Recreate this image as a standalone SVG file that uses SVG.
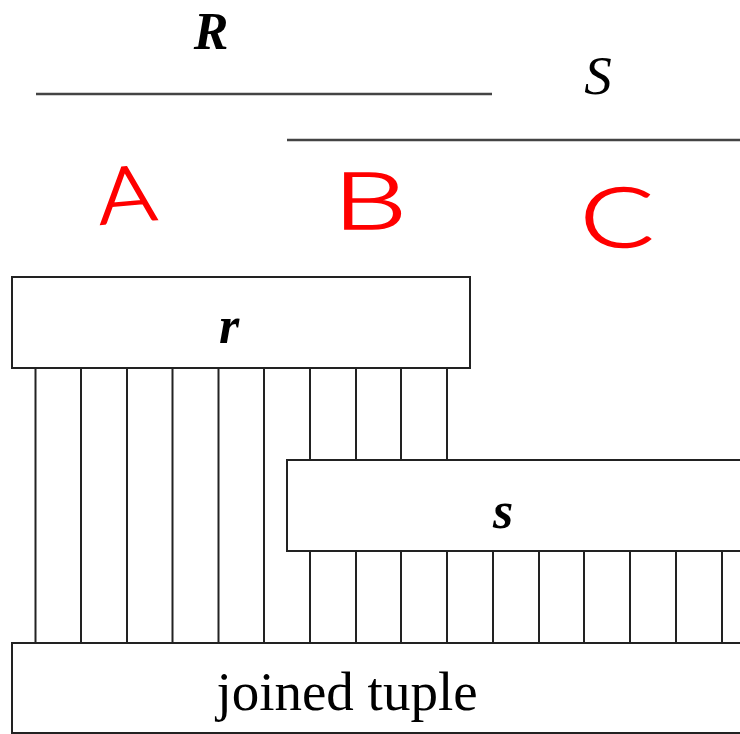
<svg xmlns="http://www.w3.org/2000/svg" width="740" height="734" viewBox="0 0 740 734">
  <style>
    .box { fill: #ffffff; stroke: #222222; stroke-width: 2; }
    .rule { stroke: #444444; stroke-width: 2.5; fill: none; }
    .wire { stroke: #222222; stroke-width: 2; fill: none; }
    .lbl { font-family: "Liberation Serif", "Times New Roman", serif; fill: #000000; }
    .bi { font-style: italic; font-weight: bold; }
    .hand { font-family: "Lato", "Inter", "Liberation Sans", sans-serif; font-weight: 300; fill: #ff0000; stroke: #ff0000; stroke-width: 1.5; font-size: 78px; }
  </style>
  <rect width="740" height="734" fill="#ffffff"/>

  <g id="relation-R">
    <text class="lbl bi" x="211" y="49" font-size="52" text-anchor="middle">R</text>
    <line class="rule" x1="36" y1="94" x2="492" y2="94"/>
  </g>
  <g id="relation-S">
    <text class="lbl" x="598" y="94" font-size="55" font-style="italic" text-anchor="middle">S</text>
    <line class="rule" x1="287" y1="140" x2="740" y2="140"/>
  </g>

  <g id="annotations">
    <text class="hand" x="0" y="0" text-anchor="middle" transform="translate(129 222) rotate(-5) scale(1.15 1)">A</text>
    <text class="hand" x="0" y="0" text-anchor="middle" transform="translate(370 229) scale(1.5 1)">B</text>
    <text class="hand" x="0" y="0" text-anchor="middle" transform="translate(617 247) scale(1.4 1.05)" font-size="90">C</text>
  </g>

  <g id="connectors">
    <line class="wire" x1="35.5" y1="368" x2="35.5" y2="643"/>
    <line class="wire" x1="81" y1="368" x2="81" y2="643"/>
    <line class="wire" x1="127" y1="368" x2="127" y2="643"/>
    <line class="wire" x1="172.5" y1="368" x2="172.5" y2="643"/>
    <line class="wire" x1="218.5" y1="368" x2="218.5" y2="643"/>
    <line class="wire" x1="264" y1="368" x2="264" y2="643"/>
    <line class="wire" x1="310" y1="368" x2="310" y2="460"/>
    <line class="wire" x1="356" y1="368" x2="356" y2="460"/>
    <line class="wire" x1="401" y1="368" x2="401" y2="460"/>
    <line class="wire" x1="447" y1="368" x2="447" y2="460"/>
    <line class="wire" x1="310" y1="551" x2="310" y2="643"/>
    <line class="wire" x1="356" y1="551" x2="356" y2="643"/>
    <line class="wire" x1="401" y1="551" x2="401" y2="643"/>
    <line class="wire" x1="447" y1="551" x2="447" y2="643"/>
    <line class="wire" x1="493" y1="551" x2="493" y2="643"/>
    <line class="wire" x1="539" y1="551" x2="539" y2="643"/>
    <line class="wire" x1="584" y1="551" x2="584" y2="643"/>
    <line class="wire" x1="630" y1="551" x2="630" y2="643"/>
    <line class="wire" x1="676" y1="551" x2="676" y2="643"/>
    <line class="wire" x1="722" y1="551" x2="722" y2="643"/>
  </g>

  <g id="node-r">
    <rect class="box" x="12" y="277" width="458" height="91"/>
    <text class="lbl bi" x="229" y="343" font-size="52" text-anchor="middle">r</text>
  </g>
  <g id="node-s">
    <rect class="box" x="287" y="460" width="470" height="91"/>
    <text class="lbl bi" x="503" y="528" font-size="52" text-anchor="middle">s</text>
  </g>
  <g id="node-joined">
    <rect class="box" x="12" y="643" width="745" height="90"/>
    <text class="lbl" x="347" y="710" font-size="55" text-anchor="middle">joined tuple</text>
  </g>
</svg>
